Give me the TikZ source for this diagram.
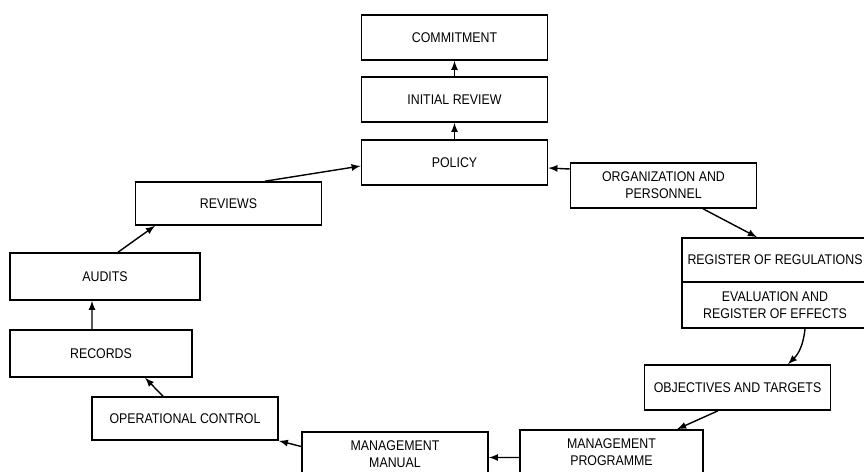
\documentclass[tikz,border=0pt]{standalone}
\usepackage{fontspec}
\setmainfont[FakeStretch=0.88]{Liberation Sans}
\usepackage{tikz}
\usetikzlibrary{arrows}

\begin{document}
\begin{tikzpicture}[x=0.02cm,y=-0.02cm,
		box/.style={draw,line width=0.9pt,align=center,inner sep=1pt,
			minimum width=3.72cm,minimum height=0.9cm,
			font=\fontsize{8}{9.8}\selectfont},
		flow/.style={->,line width=0.8pt,>=latex}]
		\useasboundingbox (0,0) rectangle (864,472);
		\node[box] (Com) at (454.5,37.5) {COMMITMENT};
		\node[box] (Ini) at (454.5,99.5) {INITIAL REVIEW};
		\node[box] (Pol) at (454.5,162.5) {POLICY};
		\node[box] (Org) at (663.5,185.5) {ORGANIZATION AND\\PERSONNEL};
		\node[box,minimum height=0.88cm] (RegA) at (775,260) {REGISTER OF REGULATIONS};
		\node[box,minimum height=0.92cm] (RegB) at (775,305) {EVALUATION AND\\REGISTER OF EFFECTS};
		\node[box] (Obj) at (737.5,387.5) {OBJECTIVES AND TARGETS};
		\node[box,minimum width=3.66cm] (Prg) at (611.5,452.5) {MANAGEMENT\\PROGRAMME};
		\node[box] (Man) at (395,454.5) {MANAGEMENT\\MANUAL};
		\node[box,minimum height=0.86cm] (Opc) at (185,418.5) {OPERATIONAL CONTROL};
		\node[box,minimum width=3.64cm,minimum height=0.94cm] (Rec) at (101,353.5) {RECORDS};
		\node[box,minimum width=3.8cm,minimum height=0.94cm] (Aud) at (105,276.5) {AUDITS};
		\node[box,minimum height=0.86cm] (Rev) at (228.5,203.5) {REVIEWS};
		%
		\path[flow]
		(Ini.north) edge (Com.south)
		(Pol.north) edge (Ini.south)
		([yshift=0.33cm]Org.west) edge ([yshift=-0.11cm]Pol.east)
		([xshift=0.79cm]Org.south) edge ([xshift=-0.36cm]RegA.north)
		([xshift=0.6cm]RegB.south) edge[bend left=20] ([xshift=1.01cm]Obj.north)
		([xshift=-0.39cm]Obj.south) edge ([xshift=1.31cm]Prg.north)
		([yshift=-0.1cm]Prg.west) edge ([yshift=-0.06cm]Man.east)
		([yshift=0.16cm]Man.west) edge (Opc.south east)
		([xshift=-0.44cm]Opc.north) edge ([xshift=0.88cm]Rec.south)
		([xshift=-0.18cm]Rec.north) edge ([xshift=-0.26cm]Aud.south)
		([xshift=0.26cm]Aud.north) edge ([xshift=-1.47cm]Rev.south)
		([xshift=0.73cm]Rev.north) edge ([yshift=-0.07cm]Pol.west);
\end{tikzpicture}
\end{document}
